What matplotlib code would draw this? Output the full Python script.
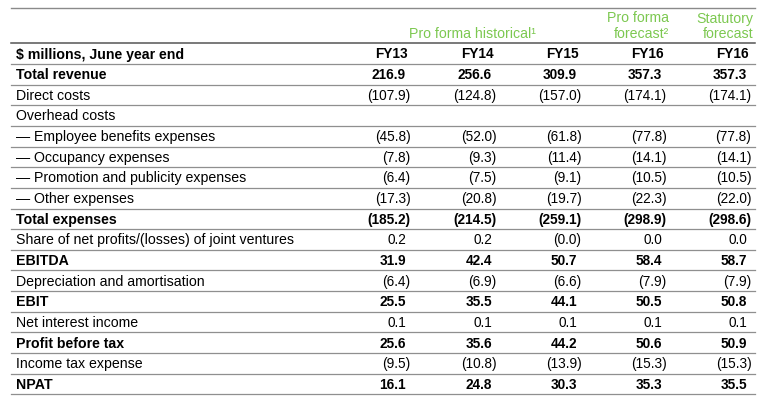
import matplotlib
matplotlib.use("Agg")
import matplotlib.pyplot as plt

# table content
row_labels = [
    "Total revenue",
    "Direct costs",
    "Overhead costs",
    "— Employee benefits expenses",
    "— Occupancy expenses",
    "— Promotion and publicity expenses",
    "— Other expenses",
    "Total expenses",
    "Share of net profits/(losses) of joint ventures",
    "EBITDA",
    "Depreciation and amortisation",
    "EBIT",
    "Net interest income",
    "Profit before tax",
    "Income tax expense",
    "NPAT",
]
bold_rows = ["Total revenue", "Total expenses", "EBITDA", "EBIT", "Profit before tax", "NPAT"]

col_labels = ["FY13", "FY14", "FY15", "FY16", "FY16"]

fy13 = ["216.9", "(107.9)", "", "(45.8)", "(7.8)", "(6.4)", "(17.3)", "(185.2)", "0.2", "31.9",
        "(6.4)", "25.5", "0.1", "25.6", "(9.5)", "16.1"]
fy14 = ["256.6", "(124.8)", "", "(52.0)", "(9.3)", "(7.5)", "(20.8)", "(214.5)", "0.2", "42.4",
        "(6.9)", "35.5", "0.1", "35.6", "(10.8)", "24.8"]
fy15 = ["309.9", "(157.0)", "", "(61.8)", "(11.4)", "(9.1)", "(19.7)", "(259.1)", "(0.0)", "50.7",
        "(6.6)", "44.1", "0.1", "44.2", "(13.9)", "30.3"]
fy16_pf = ["357.3", "(174.1)", "", "(77.8)", "(14.1)", "(10.5)", "(22.3)", "(298.9)", "0.0", "58.4",
           "(7.9)", "50.5", "0.1", "50.6", "(15.3)", "35.3"]
fy16_stat = ["357.3", "(174.1)", "", "(77.8)", "(14.1)", "(10.5)", "(22.0)", "(298.6)", "0.0", "58.7",
             "(7.9)", "50.8", "0.1", "50.9", "(15.3)", "35.5"]

green = "#7cc850"
fs = 10.2      # labels
fs_num = 9.8   # figures
plt.rcParams["font.family"] = ["Liberation Sans", "DejaVu Sans"]

W, H = 768, 401
fig = plt.figure(figsize=(W / 100, H / 100), dpi=100)
ax = fig.add_axes([0, 0, 1, 1])
ax.set_xlim(0, W)
ax.set_ylim(H, 0)
ax.axis("off")

left, right = 11, 755
top_rule = 8
row_h = 20.65
head_y = 43.3
col_x = [406, 492, 577, 662, 747]
paren_hang = 4.5
label_x = 16
base_off = 15.2   # baseline offset from top of each row

# rules
ax.plot([left, right], [top_rule, top_rule], color="#8a8a8a", lw=1)
ax.plot([left, right], [head_y, head_y], color="#555555", lw=1.1)
n_rows = len(row_labels) + 1
for i in range(1, n_rows + 1):
    y = head_y + i * row_h
    ax.plot([left, right], [y, y], color="#8f8f8f", lw=0.9)

# green group headers
ax.text(472, 37.5, "Pro forma historical¹", color=green, fontsize=fs, ha="center", va="baseline")
ax.text(669, 22.5, "Pro forma", color=green, fontsize=fs, ha="right", va="baseline")
ax.text(669, 37.5, "forecast²", color=green, fontsize=fs, ha="right", va="baseline")
ax.text(753, 22.5, "Statutory", color=green, fontsize=fs, ha="right", va="baseline")
ax.text(753, 37.5, "forecast", color=green, fontsize=fs, ha="right", va="baseline")

# header row
yb = head_y + base_off
ax.text(label_x, yb, "$ millions, June year end", fontsize=fs, fontweight="bold", va="baseline")
for x, lab in zip(col_x, col_labels):
    ax.text(x + 2, yb, lab, fontsize=fs_num, fontweight="bold", ha="right", va="baseline")

# body
columns = [fy13, fy14, fy15, fy16_pf, fy16_stat]
for r, lab in enumerate(row_labels):
    yb = head_y + (r + 1) * row_h + base_off
    weight = "bold" if lab in bold_rows else "normal"
    ax.text(label_x, yb, lab, fontsize=fs, fontweight=weight, va="baseline")
    for x, col in zip(col_x, columns):
        v = col[r]
        if not v:
            continue
        xr = x + paren_hang if v.endswith(")") else x
        ax.text(xr, yb, v, fontsize=fs_num, fontweight=weight, ha="right", va="baseline")

fig.savefig("out.png", dpi=100)
